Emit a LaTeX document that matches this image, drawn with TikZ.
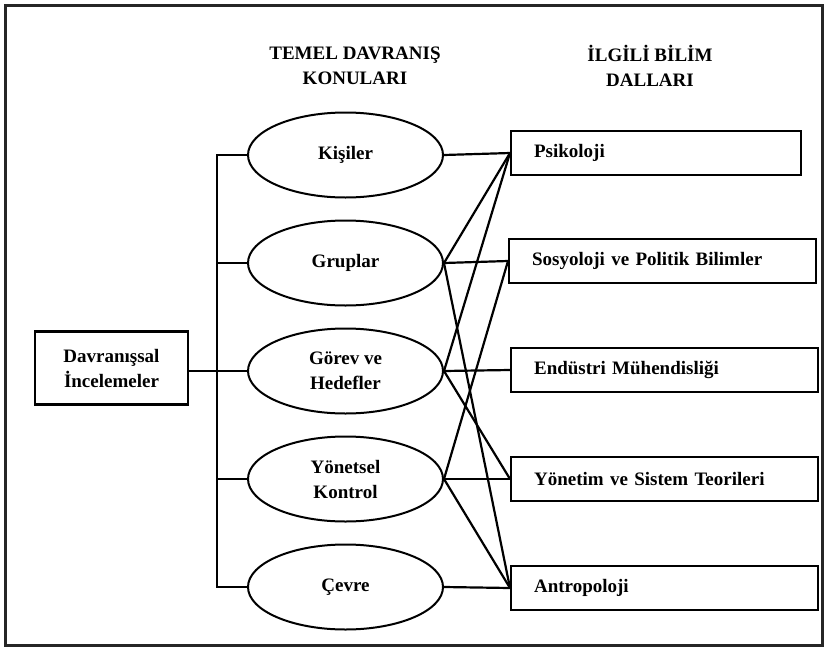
\documentclass[tikz,border=0pt]{standalone}
\usepackage{fontspec}
\setmainfont{Liberation Serif}
\usetikzlibrary{shapes.geometric}
\begin{document}
\begin{tikzpicture}[x=1pt,y=-1pt,
  yazi/.style = {font=\fontsize{19}{25}\selectfont\bfseries, align=center},
  konu/.style = {yazi, draw, ellipse, line width=2pt, minimum width=195pt, minimum height=85pt, inner sep=0pt},
  dal/.style = {yazi, draw, rectangle, line width=2.2pt, anchor=west, minimum height=44pt, inner xsep=23pt, text width=261pt, align=left},
  bag/.style = {line width=2.2pt}]
\useasboundingbox (0,0) rectangle (824,648);
\draw[line width=3pt, black!85] (5,5) rectangle (822,645);

\node[yazi] (b1) at (355,65.5) {TEMEL DAVRANIŞ\\KONULARI};
\node[yazi] (b2) at (650,65.5) {İLGİLİ BİLİM\\DALLARI};

\node[yazi, draw, line width=2.2pt, minimum width=153pt, minimum height=73pt] (d) at (111.5,368) {Davranışsal\\İncelemeler};

\node[konu] (k) at (345.5,155) {Kişiler};
\node[konu] (g) at (345.5,263) {Gruplar};
\node[konu] (h) at (345.5,371) {Görev ve\\Hedefler};
\node[konu] (y) at (345.5,479) {Yönetsel\\Kontrol};
\node[konu] (c) at (345.5,587) {Çevre};

\node[dal, text width=244pt] (psi) at (510,153) {Psikoloji};
\node[dal] (sos) at (508,261) {Sosyoloji ve Politik Bilimler};
\node[dal] (end) at (510,370) {Endüstri Mühendisliği};
\node[dal] (yon) at (510,479) {Yönetim ve Sistem Teorileri};
\node[dal] (ant) at (510,588) {Antropoloji};

% sol taraf
\coordinate (o) at (217,0);
\draw[bag] (k.west) -- (k.west -| o) -- (c.west -| o) -- (c.west);
\draw[bag] (g.west) -- (g.west -| o);
\draw[bag] (y.west) -- (y.west -| o);
\draw[bag] (d.east |- h.west) -- (h.west);

% sag taraf
\draw[bag] (k.east) -- (psi.west);
\draw[bag] (g.east) -- (psi.west);
\draw[bag] (g.east) -- (sos.west);
\draw[bag] (g.east) -- (ant.west);
\draw[bag] (h.east) -- (psi.west);
\draw[bag] (h.east) -- (end.west);
\draw[bag] (h.east) -- (yon.west);
\draw[bag] (y.east) -- (sos.west);
\draw[bag] (y.east) -- (yon.west);
\draw[bag] (y.east) -- (ant.west);
\draw[bag] (c.east) -- (ant.west);
\end{tikzpicture}
\end{document}
